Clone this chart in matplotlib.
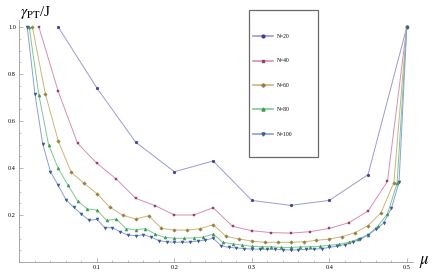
import numpy as np
import matplotlib
matplotlib.use("Agg")
import matplotlib.pyplot as plt
from matplotlib.patches import Rectangle
from matplotlib.ticker import MultipleLocator
from matplotlib.lines import Line2D

plt.rcParams['mathtext.fontset'] = 'stix'
plt.rcParams['font.family'] = ['Liberation Serif', 'DejaVu Serif']

labels = ["N=20", "N=40", "N=60", "N=80", "N=100"]
sizes = [20, 40, 60, 80, 100]

g20 = [1.0, 0.74, 0.51, 0.384, 0.43, 0.262, 0.241, 0.262, 0.372, 1.0]
g40 = [1.0, 0.726, 0.505, 0.42, 0.353, 0.271, 0.24, 0.2, 0.2, 0.231,
       0.152, 0.133, 0.125, 0.123, 0.129, 0.143, 0.167, 0.217, 0.343, 1.0]
g60 = [1.0, 0.716, 0.516, 0.382, 0.335, 0.291, 0.233, 0.199, 0.183, 0.197,
       0.143, 0.136, 0.136, 0.142, 0.159, 0.109, 0.098, 0.089, 0.084, 0.084,
       0.084, 0.086, 0.092, 0.098, 0.108, 0.125, 0.155, 0.209, 0.338, 1.0]
g80 = [1.0, 0.711, 0.5, 0.398, 0.328, 0.26, 0.226, 0.221, 0.177, 0.183,
       0.142, 0.137, 0.142, 0.119, 0.105, 0.101, 0.101, 0.103, 0.106, 0.119,
       0.084, 0.077, 0.072, 0.067, 0.065, 0.065, 0.062, 0.062, 0.064, 0.065,
       0.067, 0.071, 0.075, 0.084, 0.098, 0.116, 0.152, 0.204, 0.335, 1.0]
g100 = [1.0, 0.714, 0.502, 0.384, 0.326, 0.265, 0.233, 0.204, 0.177, 0.182,
        0.146, 0.146, 0.128, 0.115, 0.112, 0.116, 0.106, 0.091, 0.086, 0.084,
        0.084, 0.085, 0.089, 0.094, 0.101, 0.07, 0.062, 0.06, 0.057, 0.055,
        0.055, 0.054, 0.054, 0.052, 0.051, 0.052, 0.054, 0.055, 0.057, 0.062,
        0.068, 0.074, 0.085, 0.097, 0.114, 0.139, 0.165, 0.228, 0.339, 1.0]
series = [g20, g40, g60, g80, g100]

marker_colors = ["#3d3d99", "#993d6b", "#99803d", "#3d9954", "#3d5999"]
line_colors = ["#9a9ad6", "#d68fb3", "#cdb57a", "#7fc98f", "#8aa0d4"]
markers = ["o", "s", "D", "^", "v"]
msizes = [2.0, 1.9, 1.8, 2.2, 2.2]

fig = plt.figure(figsize=(4.36, 2.76), dpi=100)
ax = fig.add_axes([0.0447, 0.0507, 0.9025, 0.877])

for N, g, mc, lc, mk, ms in zip(sizes, series, marker_colors, line_colors, markers, msizes):
    mu = np.arange(1, len(g) + 1) / N
    ax.plot(mu, g, color=lc, lw=0.7, zorder=2)
    ax.plot(mu, g, ls="none", marker=mk, ms=ms, color=mc, mec=mc, mew=0.3, zorder=3)

ax.set_xlim(0, 0.508)
ax.set_ylim(0, 1.03)
for s in ["top", "right"]:
    ax.spines[s].set_visible(False)
for s in ["left", "bottom"]:
    ax.spines[s].set_color("#9a9a9a")
    ax.spines[s].set_linewidth(0.6)

ax.xaxis.set_major_locator(MultipleLocator(0.1))
ax.xaxis.set_minor_locator(MultipleLocator(0.02))
ax.yaxis.set_major_locator(MultipleLocator(0.2))
ax.yaxis.set_minor_locator(MultipleLocator(0.05))
ax.set_xticks([0.1, 0.2, 0.3, 0.4, 0.5])
ax.set_xticklabels(["0.1", "0.2", "0.3", "0.4", "0.5"])
ax.set_yticks([0.2, 0.4, 0.6, 0.8, 1.0])
ax.set_yticklabels(["0.2", "0.4", "0.6", "0.8", "1.0"])
ax.tick_params(which="major", direction="in", length=3, width=0.5, color="#9a9a9a",
               labelsize=4.5, pad=2.5)
ax.tick_params(which="minor", direction="in", length=1.7, width=0.4, color="#9a9a9a")

fig.text(0.045, 0.955, r"$\gamma_{\rm PT}$/J", fontsize=11, ha="left", va="center")
fig.text(0.962, 0.05, r"$\mu$", fontsize=12, ha="left", va="center")

# legend box
fig.patches.append(Rectangle((249.3 / 436, 1 - 156.7 / 276), (318.3 - 249.3) / 436,
                             (156.7 - 10.3) / 276, transform=fig.transFigure,
                             fill=False, ec="#6a6a6a", lw=0.9, zorder=5))
handles = [Line2D([], [], color=lc, lw=1.2, marker=mk, ms=ms, mfc=mc, mec=mc)
           for lc, mc, mk, ms in zip(line_colors, marker_colors, markers, msizes)]
leg = fig.legend(handles, labels, loc="upper left",
                 bbox_to_anchor=(252.5 / 436, 1 - 34.0 / 276),
                 frameon=False, fontsize=4, labelspacing=3.5,
                 handlelength=3.7, handletextpad=0.6, borderpad=0, borderaxespad=0)

fig.savefig("out.png", dpi=100)
